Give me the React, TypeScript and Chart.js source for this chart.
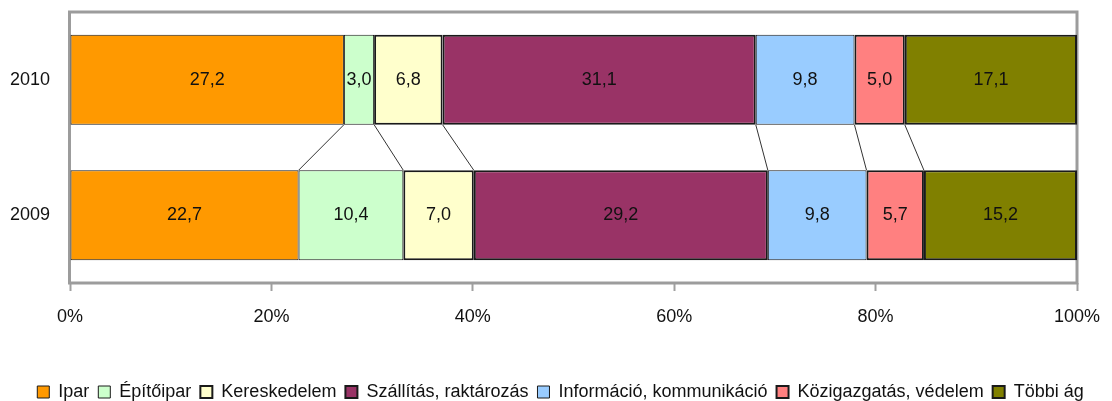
import React, { useEffect, useRef } from "react";
import { Chart, registerables } from "chart.js";

Chart.register(...registerables);

const categories = ["2010", "2009"];
const seriesNames = [
  "Ipar",
  "Építőipar",
  "Kereskedelem",
  "Szállítás, raktározás",
  "Információ, kommunikáció",
  "Közigazgatás, védelem",
  "Többi ág",
];
const ipar = [27.2, 22.7];
const epitoipar = [3.0, 10.4];
const kereskedelem = [6.8, 7.0];
const szallitas = [31.1, 29.2];
const informacio = [9.8, 9.8];
const kozigazgatas = [5.0, 5.7];
const tobbi = [17.1, 15.2];
const xTicks = [0, 20, 40, 60, 80, 100];

const seriesValues = [ipar, epitoipar, kereskedelem, szallitas, informacio, kozigazgatas, tobbi];
const colors = ["#FF9900", "#CCFFCC", "#FFFFCC", "#993366", "#99CCFF", "#FF8080", "#808000"];
const borderWidths = [1, 1, 2, 2, 1, 2, 2];

const FONT = "'Liberation Sans', Arial, sans-serif";
const FS = 18;

const fmt = (v: number) => v.toFixed(1).replace(".", ",");

const plotBorder = {
  id: "plotBorder",
  beforeDatasetsDraw(chart: any) {
    const { ctx, chartArea: a } = chart;
    ctx.save();
    ctx.strokeStyle = "#9c9c9c";
    ctx.lineWidth = 3;
    ctx.strokeRect(a.left - 0.5, a.top, a.right - a.left + 0.5, a.bottom - a.top);
    ctx.restore();
  },
};

const seriesLines = {
  id: "seriesLines",
  afterDatasetsDraw(chart: any) {
    const { ctx } = chart;
    ctx.save();
    ctx.strokeStyle = "#333";
    ctx.lineWidth = 1;
    const n = chart.data.datasets.length;
    for (let d = 0; d < n - 1; d++) {
      const meta = chart.getDatasetMeta(d);
      const a = meta.data[0] as any;
      const b = meta.data[1] as any;
      if (!a || !b) continue;
      ctx.beginPath();
      ctx.moveTo(a.x, a.y + a.height / 2);
      ctx.lineTo(b.x, b.y - b.height / 2);
      ctx.stroke();
    }
    ctx.restore();
  },
};

const dataLabels = {
  id: "dataLabels",
  afterDatasetsDraw(chart: any) {
    const { ctx } = chart;
    ctx.save();
    ctx.font = `${FS}px ${FONT}`;
    ctx.fillStyle = "#111";
    ctx.textAlign = "center";
    ctx.textBaseline = "middle";
    chart.data.datasets.forEach((ds: any, d: number) => {
      const meta = chart.getDatasetMeta(d);
      meta.data.forEach((el: any, i: number) => {
        const x = (el.x + el.base) / 2;
        ctx.fillText(fmt(ds.data[i]), x, el.y);
      });
    });
    ctx.restore();
  },
};

const shiftLegend = {
  id: "shiftLegend",
  afterLayout(chart: any) {
    const l = chart.legend;
    if (l) {
      l.top += 10;
      l.bottom += 10;
      l.left += 22;
      l.right += 22;
    }
  },
};

export default function App() {
  const ref = useRef<HTMLCanvasElement>(null);
  useEffect(() => {
    document.body.style.margin = "0";
    const chart = new Chart(ref.current as HTMLCanvasElement, {
      type: "bar",
      data: {
        labels: categories,
        datasets: seriesNames.map((name, k) => ({
          label: name,
          data: seriesValues[k],
          backgroundColor: colors[k],
          borderColor: "#1a1a1a",
          borderWidth: borderWidths[k],
          borderSkipped: false,
          barPercentage: 0.664,
          categoryPercentage: 1,
        })),
      },
      options: {
        indexAxis: "y",
        responsive: false,
        animation: false,
        layout: { padding: { top: 12, right: 35, left: 0, bottom: 0 } },
        scales: {
          x: {
            stacked: true,
            min: 0,
            max: 100,
            afterBuildTicks(scale: any) {
              scale.ticks = xTicks.map((v) => ({ value: v }));
            },
            afterFit(scale: any) {
              scale.height = 81;
              scale.paddingRight = 0;
              scale.paddingLeft = 0;
            },
            border: { display: false },
            grid: {
              drawOnChartArea: false,
              drawTicks: true,
              tickLength: 8,
              tickColor: "#a0a0a0",
              tickWidth: 2,
            },
            ticks: {
              padding: 15,
              color: "#111",
              font: { family: FONT, size: FS },
              callback: (v: any) => v + "%",
              maxRotation: 0,
            },
          },
          y: {
            stacked: true,
            afterFit(scale: any) {
              scale.width = 70;
              scale.paddingTop = 0;
              scale.paddingBottom = 0;
            },
            border: { display: false },
            grid: { display: false, drawTicks: false },
            ticks: {
              padding: 20,
              color: "#111",
              font: { family: FONT, size: FS },
            },
          },
        },
        plugins: {
          legend: {
            position: "bottom",
            labels: {
              boxWidth: 12,
              boxHeight: 12,
              padding: 9,
              color: "#111",
              font: { family: FONT, size: FS },
            },
          },
          tooltip: { enabled: false },
        },
      },
      plugins: [plotBorder, seriesLines, dataLabels, shiftLegend],
    });
    return () => chart.destroy();
  }, []);
  return (
    <div style={{ width: 1112, height: 401 }}>
      <canvas ref={ref} width={1112} height={401} />
    </div>
  );
}
